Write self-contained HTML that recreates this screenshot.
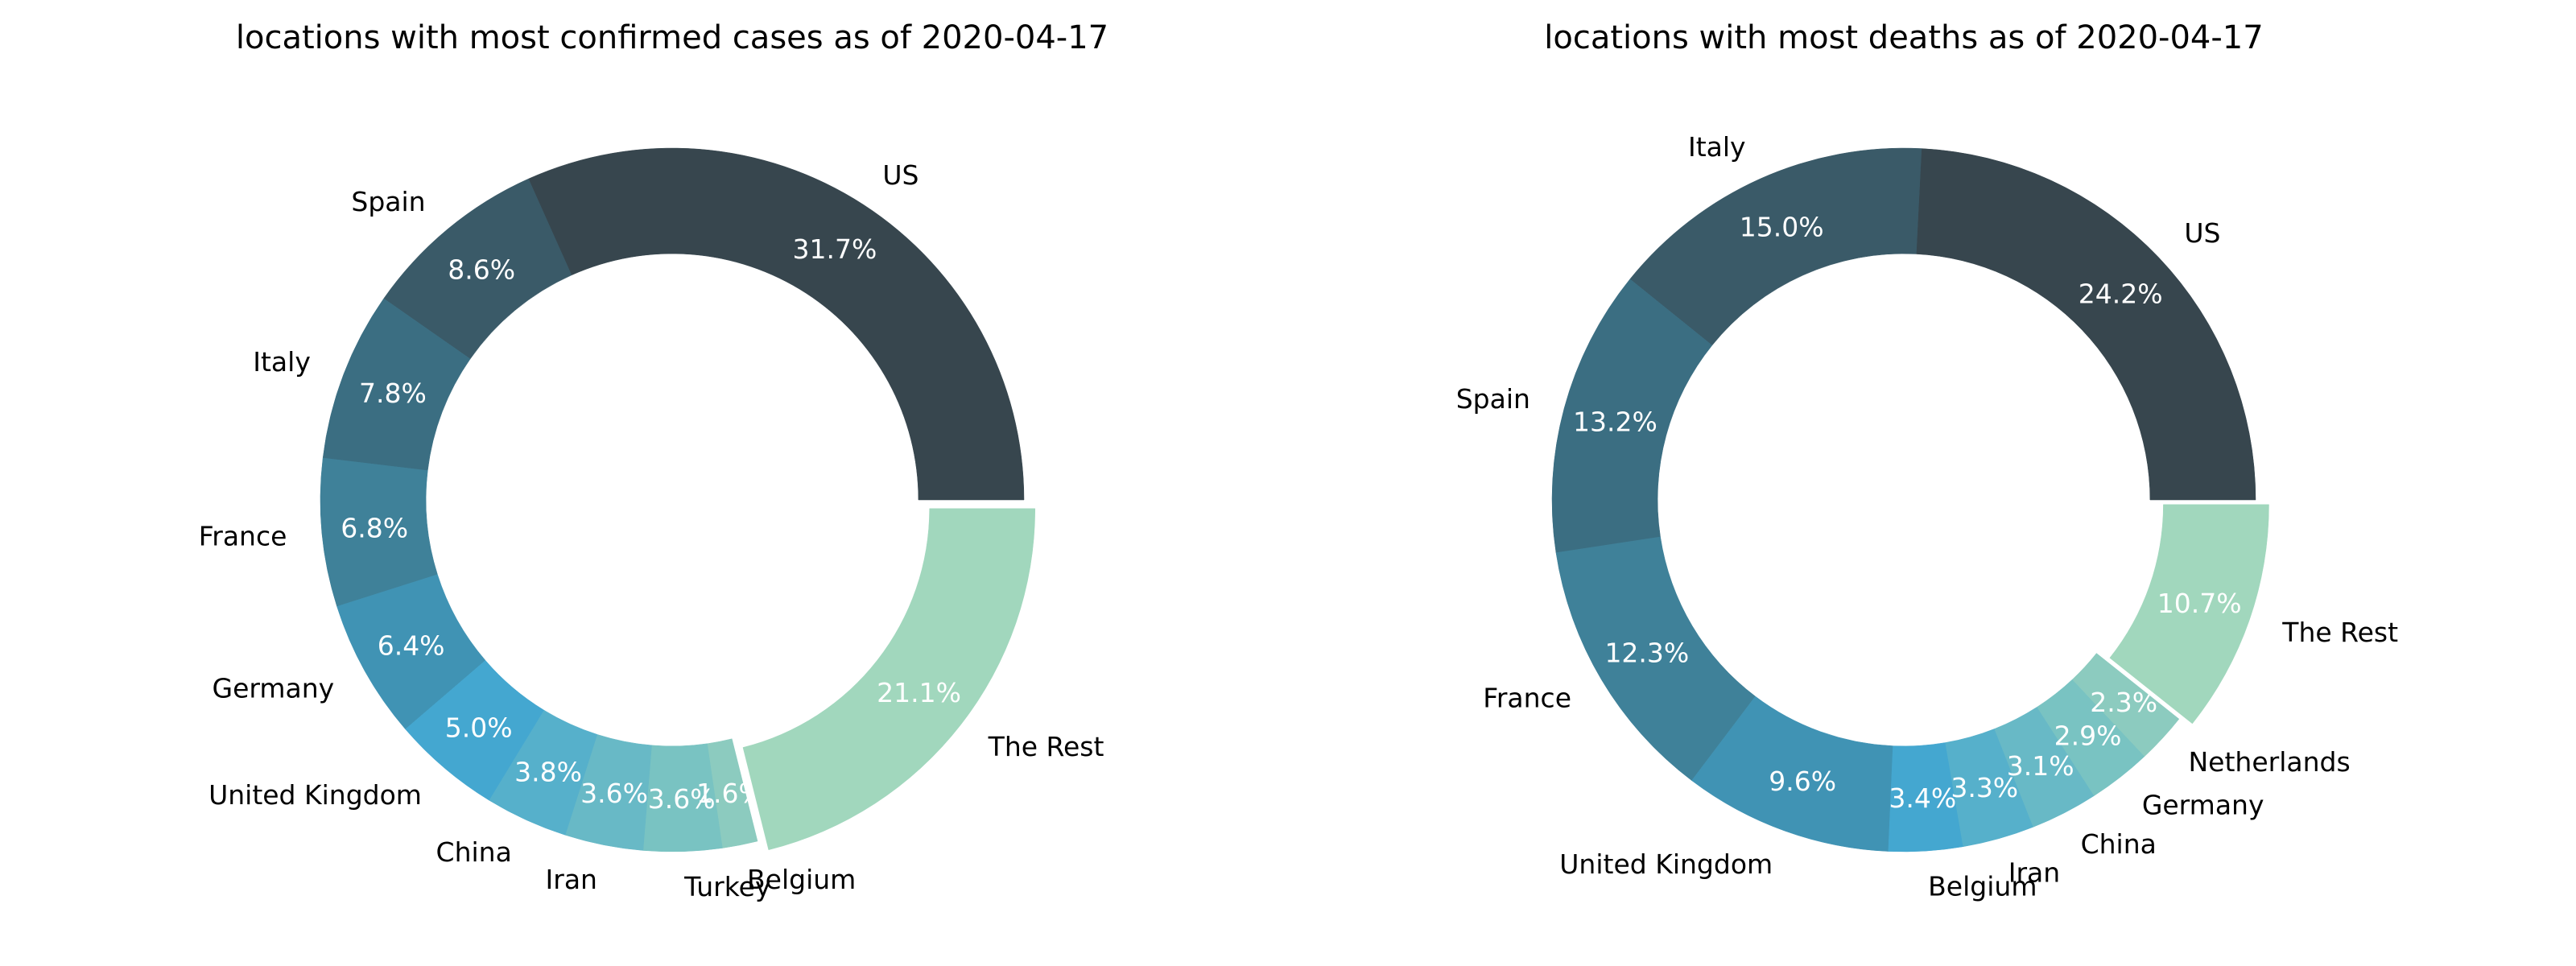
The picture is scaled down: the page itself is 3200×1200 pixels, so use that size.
<!DOCTYPE html>
<html><head><meta charset="utf-8"><style>
html,body{margin:0;padding:0;background:#fff}
svg{display:block}
text{font-family:"DejaVu Sans","Liberation Sans",sans-serif}
</style></head><body>
<svg id="chart" width="3200" height="1200" viewBox="0 0 3200 1200" xmlns="http://www.w3.org/2000/svg">
<text x="835" y="60" font-size="40" text-anchor="middle">locations with most confirmed cases as of 2020-04-17</text>
<text x="2365" y="60" font-size="40" text-anchor="middle">locations with most deaths as of 2020-04-17</text>
</svg>
<script>
const casesLabels = ["US","Spain","Italy","France","Germany","United Kingdom","China","Iran","Turkey","Belgium","The Rest"];
const casesValues = [31.7,8.6,7.8,6.8,6.4,5.0,3.8,3.6,3.6,1.6,21.1];
const deathsLabels = ["US","Italy","Spain","France","United Kingdom","Belgium","Iran","China","Germany","Netherlands","The Rest"];
const deathsValues = [24.2,15.0,13.2,12.3,9.6,3.4,3.3,3.1,2.9,2.3,10.7];
const palette = ["#37464e","#3a5a68","#3b6e82","#3f8199","#4093b4","#44a7d0","#56b0cb","#68b9c6","#79c3c2","#8ccbbf","#a1d7bd"];

const svg = document.getElementById('chart');
const NS = "http://www.w3.org/2000/svg";
function drawDonut(cx, cy, labels, values, key){
  const R = 437, r = R*0.7;
  const total = values.reduce((a,b)=>a+b,0);
  let a0 = 0;
  const g = document.createElementNS(NS,'g');
  
  
  svg.appendChild(g);
  values.forEach((v,i)=>{
    const a1 = a0 + v/total*2*Math.PI;
    const mid = (a0+a1)/2;
    const ex = (labels[i]==="The Rest") ? 0.04*R : 0;
    const ox = cx + ex*Math.cos(mid), oy = cy - ex*Math.sin(mid);
    const p = (rad, a)=>[ox+rad*Math.cos(a), oy-rad*Math.sin(a)];
    const large = (a1-a0) > Math.PI ? 1 : 0;
    const [x1,y1]=p(R,a0),[x2,y2]=p(R,a1),[x3,y3]=p(r,a1),[x4,y4]=p(r,a0);
    const path = document.createElementNS(NS,'path');
    path.setAttribute('d',`M${x1},${y1} A${R},${R} 0 ${large} 0 ${x2},${y2} L${x3},${y3} A${r},${r} 0 ${large} 1 ${x4},${y4} Z`);
    path.setAttribute('fill', palette[i]);
    path.setAttribute('stroke', palette[i]);
    path.setAttribute('stroke-width', '0.5');
    
    
    g.appendChild(path);
    const [lx,ly] = p(R*1.1, mid);
    const t = document.createElementNS(NS,'text');
    t.setAttribute('x', lx); t.setAttribute('y', ly);
    t.setAttribute('font-size','33');
    t.setAttribute('dominant-baseline','central');
    t.setAttribute('text-anchor', Math.cos(mid) > 0 ? 'start' : 'end');
    t.textContent = labels[i];
    
    
    g.appendChild(t);
    const [px,py] = p(R*0.85, mid);
    const pt = document.createElementNS(NS,'text');
    pt.setAttribute('x', px); pt.setAttribute('y', py);
    pt.setAttribute('font-size','33');
    pt.setAttribute('fill','#fff');
    pt.setAttribute('dominant-baseline','central');
    pt.setAttribute('text-anchor','middle');
    pt.textContent = v.toFixed(1) + '%';
    
    
    g.appendChild(pt);
    a0 = a1;
  });
}
drawDonut(835, 621, casesLabels, casesValues, 'cases');
drawDonut(2365, 621, deathsLabels, deathsValues, 'deaths');
</script>
</body></html>
